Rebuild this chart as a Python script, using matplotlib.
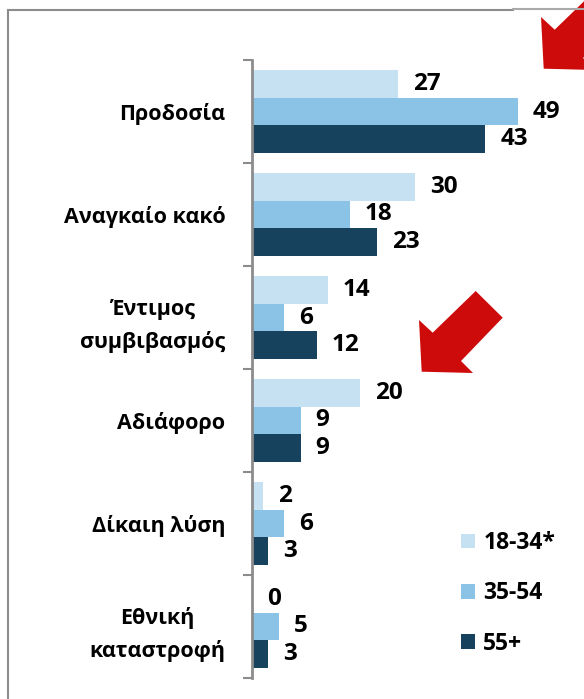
import matplotlib
matplotlib.use("Agg")
import matplotlib.pyplot as plt
from matplotlib.patches import Patch, Polygon
from matplotlib.lines import Line2D
import numpy as np

plt.rcParams['font.family'] = ['Open Sans', 'DejaVu Sans']

categories = ["Προδοσία", "Αναγκαίο κακό", "Έντιμος\nσυμβιβασμός",
              "Αδιάφορο", "Δίκαιη λύση", "Εθνική\nκαταστροφή"]
series_names = ["18-34*", "35-54", "55+"]
v_18_34 = [27, 30, 14, 20, 2, 0]
v_35_54 = [49, 18, 6, 9, 6, 5]
v_55 = [43, 23, 12, 9, 3, 3]
values = [v_18_34, v_35_54, v_55]
colors = ["#C5E1F2", "#8AC3E5", "#17425E"]

W, H = 584, 699
fig = plt.figure(figsize=(W / 100, H / 100), dpi=100)

ax_left, ax_right = 251.7, 584.0
ax_top, ax_bottom = 60.0, 678.0
ax = fig.add_axes([ax_left / W, 1 - ax_bottom / H, (ax_right - ax_left) / W, (ax_bottom - ax_top) / H])
ax.set_xlim(0, (ax_right - ax_left) / 5.435)
n = len(categories)
ax.set_ylim(n - 0.5, -0.5)

y = np.arange(n)
bh = 0.27
offsets = [-bh, 0, bh]
for vals, col, off, name in zip(values, colors, offsets, series_names):
    ax.barh(y + off, vals, height=bh, color=col, label=name, edgecolor='none')
    for yi, v in zip(y + off, vals):
        ax.annotate(str(v), xy=(v, yi), xytext=(15, 0), textcoords='offset pixels',
                    ha='left', va='center', fontsize=17.5, fontweight='bold', color='black',
                    annotation_clip=False)

for s in ['top', 'right', 'bottom']:
    ax.spines[s].set_visible(False)
ax.spines['left'].set_color('#8C8C8C')
ax.spines['left'].set_linewidth(2)
ax.set_xticks([])
ax.set_yticks(y)
ax.set_yticklabels(categories, fontsize=15.5, fontweight='bold', linespacing=1.65)
for lab in ax.get_yticklabels():
    lab.set_multialignment('center')
ax.tick_params(axis='y', which='major', length=0, pad=19)
ax.set_yticks(np.arange(-0.5, n, 1.0), minor=True)
ax.tick_params(axis='y', which='minor', length=6.5, width=1.5, color='#8C8C8C', direction='out')

handles = [Patch(facecolor=c, edgecolor='none') for c in colors]
fig.legend(handles, series_names, loc='upper left', bbox_to_anchor=(461 / W, 1 - 531 / H),
           frameon=False, prop={'size': 16.5, 'weight': 'bold'}, handlelength=0.62, handleheight=0.62,
           handletextpad=0.35, labelspacing=1.15, borderaxespad=0, borderpad=0)

# frame lines
fig.add_artist(Line2D([8 / W, 8 / W], [0, 1 - 10 / H], transform=fig.transFigure, color='#8C8C8C', lw=1.5))
fig.add_artist(Line2D([8 / W, 513 / W], [1 - 10 / H, 1 - 10 / H], transform=fig.transFigure, color='#8C8C8C', lw=1.5))
fig.add_artist(Line2D([513 / W, 1], [1 - 9 / H, 1 - 9 / H], transform=fig.transFigure, color='#AAAAAA', lw=1.5))

# decorative red arrows (pixel coords, origin top-left)
arrow = np.array([(419, 320), (432.7, 332.7), (475.7, 291), (502.7, 317.7),
                  (461, 361), (473, 373), (421.7, 371.7)])
for dx, dy in [(0, 0), (122, -303)]:
    pts = arrow + np.array([dx, dy])
    fpts = np.column_stack([pts[:, 0] / W, 1 - pts[:, 1] / H])
    fig.add_artist(Polygon(fpts, closed=True, transform=fig.transFigure, facecolor='#CE0B0B',
                           edgecolor='none', clip_on=False))

fig.savefig("out.png", dpi=100)
